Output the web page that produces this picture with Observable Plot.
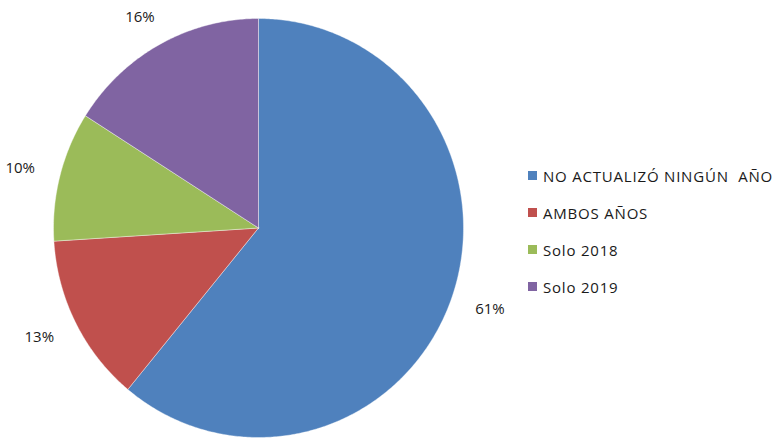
<!DOCTYPE html>
<html>
<head>
<meta charset="utf-8">
<script src="https://cdn.jsdelivr.net/npm/d3@7"></script>
<script src="https://cdn.jsdelivr.net/npm/@observablehq/plot@0.6"></script>
<style>
  html, body { margin: 0; padding: 0; background: #fff; }
  #wrap { position: relative; width: 778px; height: 439px; overflow: hidden; }
  #legend { position: absolute; left: 528px; top: 157px; font-family: "Open Sans", sans-serif; font-size: 15px; letter-spacing: 0.8px; color: #1a1a1a; }
  #legend .row { display: flex; align-items: center; height: 37px; white-space: pre; }
  #legend .sw { width: 9px; height: 9px; margin-right: 6px; flex: none; }
</style>
</head>
<body>
<div id="wrap"><div id="chart"></div><div id="legend"></div></div>
<script>
const categories = ["NO ACTUALIZÓ NINGÚN  AÑO", "AMBOS AÑOS", "Solo 2018", "Solo 2019"];
const values = [61, 13, 10, 16];
const labels = ["61%", "13%", "10%", "16%"];
const colors = ["#4F81BD", "#C0504D", "#9BBB59", "#8064A2"];

const pie = d3.pie().sort(null).value(d => d.value)(categories.map((c, i) => ({cat: c, value: values[i], label: labels[i]})));

const pts = [];
for (const a of pie) {
  pts.push({cat: a.data.cat, x: 0, y: 0});
  const n = Math.max(2, Math.ceil((a.endAngle - a.startAngle) / 0.01));
  for (let k = 0; k <= n; k++) {
    const t = a.startAngle + (a.endAngle - a.startAngle) * k / n;
    pts.push({cat: a.data.cat, x: Math.sin(t), y: Math.cos(t)});
  }
  pts.push({cat: a.data.cat, x: 0, y: 0});
}
const lab = pie.map(a => {
  const m = (a.startAngle + a.endAngle) / 2;
  return {label: a.data.label, x: 1.2 * Math.sin(m), y: 1.15 * Math.cos(m)};
});

const chart = Plot.plot({
  width: 778, height: 439,
  margin: 0,
  x: {domain: [-1, 1], range: [53, 463], axis: null},
  y: {domain: [-1, 1], range: [437, 18], axis: null},
  color: {domain: categories, range: colors},
  style: {background: "#fff"},
  marks: [
    Plot.line(pts, {x: "x", y: "y", z: "cat", fill: "cat", stroke: "#fff", strokeWidth: 0.4, curve: "linear-closed"}),
    Plot.text(lab, {x: "x", y: "y", text: "label", fontSize: 15, fill: "#1a1a1a", fontFamily: "Open Sans, sans-serif"})
  ]
});
document.getElementById("chart").appendChild(chart);

const lg = document.getElementById("legend");
categories.forEach((c, i) => {
  const r = document.createElement("div");
  r.className = "row";
  const s = document.createElement("span");
  s.className = "sw"; s.style.background = colors[i];
  const t = document.createElement("span");
  t.textContent = c;
  r.appendChild(s); r.appendChild(t);
  lg.appendChild(r);
});
</script>
</body>
</html>
